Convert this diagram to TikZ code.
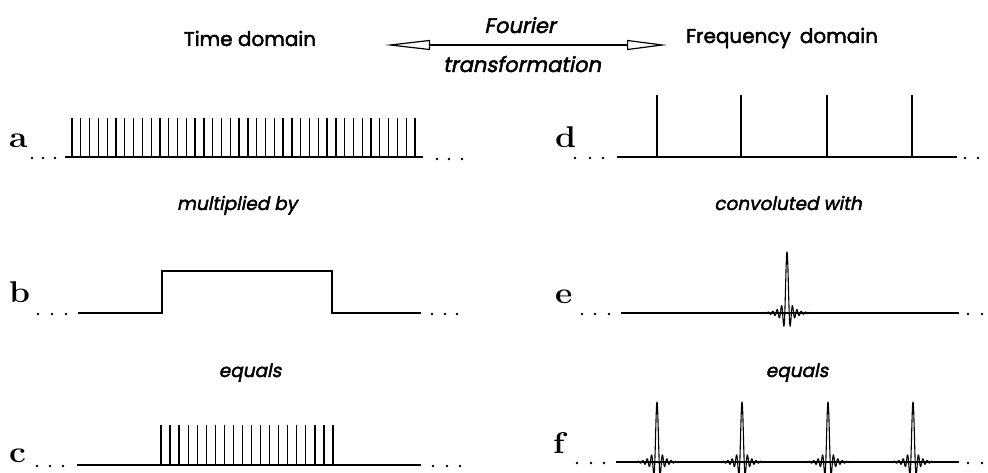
\documentclass[tikz,border=0pt]{standalone}
\usepackage{fontspec}
\newfontfamily\lblfont{Poppins}[FakeBold=2.2]
\newfontfamily\itfont{Poppins}[FakeSlant=0.2,FakeBold=2.2]
\usetikzlibrary{arrows.meta}
\begin{document}
\begin{tikzpicture}[x=1pt,y=-1pt,
  declare function={sincf(\u,\w,\d)=sin(180*\u/\w)/(pi*\u/\w)*exp(-(\u/\d)^2);},
  sig/.style={line width=1.7pt},
  spike/.style={line width=1.3pt},
  thinsig/.style={line width=1.1pt},
  title/.style={font=\lblfont\fontsize{20}{24}\selectfont, anchor=base, inner sep=0pt},
  note/.style={font=\itfont\fontsize{18.5}{22}\selectfont, anchor=base, inner sep=0pt},
  bignote/.style={note, font=\itfont\fontsize{21}{24}\selectfont},
  letter/.style={font=\fontsize{30}{32}\selectfont\bfseries, anchor=base west, inner sep=0pt, xscale=1.12},
]
\useasboundingbox (0,0) rectangle (988,473);

% titles and arrow
\node[title] (td) at (250,46) {Time domain};
\node[title] (fd) at (782,43) {Frequency\hspace{0.45em}domain};
\node[bignote] (four) at (520,33) {Fourier};
\node[bignote] (trans) at (522,72) {transformation};
\coordinate (arrL) at (385,45);
\coordinate (arrR) at (667,45);
\draw[line width=1.2pt, {Triangle[open,length=45pt,width=10pt]}-{Triangle[open,length=40pt,width=10pt]}] (arrL) -- (arrR);

% captions
\node[note] (mult) at (237,210) {multiplied by};
\node[note] (conv) at (788,210) {convoluted with};
\node[note] (eqL) at (250,377) {equals};
\node[note] (eqR) at (797,377) {equals};

% letters
\node[letter] (la) at (9,148) {a};
\node[letter] (lb) at (9,302) {b};
\node[letter] (lc) at (9,462) {c};
\node[letter] (ld) at (555,148) {d};
\node[letter] (le) at (555,303) {e};
\node[letter] (lf) at (553,453) {f};

% dots
\foreach \x in {32,43,55} \fill (\x,158) circle (1.4pt);
\foreach \x in {437,449,462} \fill (\x,159) circle (1.4pt);
\foreach \x in {38,52,66} \fill (\x,314) circle (1.4pt);
\foreach \x in {432,445,457} \fill (\x,314) circle (1.4pt);
\foreach \x in {37,50,63} \fill (\x,466) circle (1.4pt);
\foreach \x in {433,447,460} \fill (\x,466) circle (1.4pt);
\foreach \x in {575,590,603} \fill (\x,158) circle (1.4pt);
\foreach \x in {965,978} \fill (\x,158) circle (1.4pt);
\foreach \x in {582,595,609} \fill (\x,314) circle (1.4pt);
\foreach \x in {968,982} \fill (\x,314) circle (1.4pt);
\foreach \x in {577,591,604} \fill (\x,463) circle (1.4pt);
\foreach \x in {968,982} \fill (\x,463) circle (1.4pt);

% a: comb
\draw[sig] (65,157) -- (423,157);
\foreach \i in {0,...,39} \draw[spike] ({72+8.795*\i},157) -- ({72+8.795*\i},118);

% b: rectangle
\draw[sig, line join=miter] (78,313) -- (162,313) -- (162,271) -- (332,271) -- (332,313) -- (421,313);

% c: truncated comb
\draw[sig] (77,465) -- (421,465);
\foreach \i in {0,...,19} \draw[spike] ({161+9.05*\i},465) -- ({161+9.05*\i},425);

% d: frequency comb
\draw[sig] (617,157) -- (957,157);
\foreach \x in {657,741,827,912} \draw[line width=1.3pt] (\x,157) -- (\x,95);

% e: sinc
\draw[thinsig] (621,313) -- (959,313);
\draw[thinsig] plot[domain=-41:41, samples=410] ({787+\x},{313-61*sincf(\x,2.2,20)});

% f: periodic sinc
\draw[thinsig] (616,462) -- (959,462);
\foreach \c in {657,742,828,913}
  \draw[thinsig] plot[domain=-41:41, samples=410] ({\c+\x},{462-60*sincf(\x,2.2,18)});
\end{tikzpicture}
\end{document}
